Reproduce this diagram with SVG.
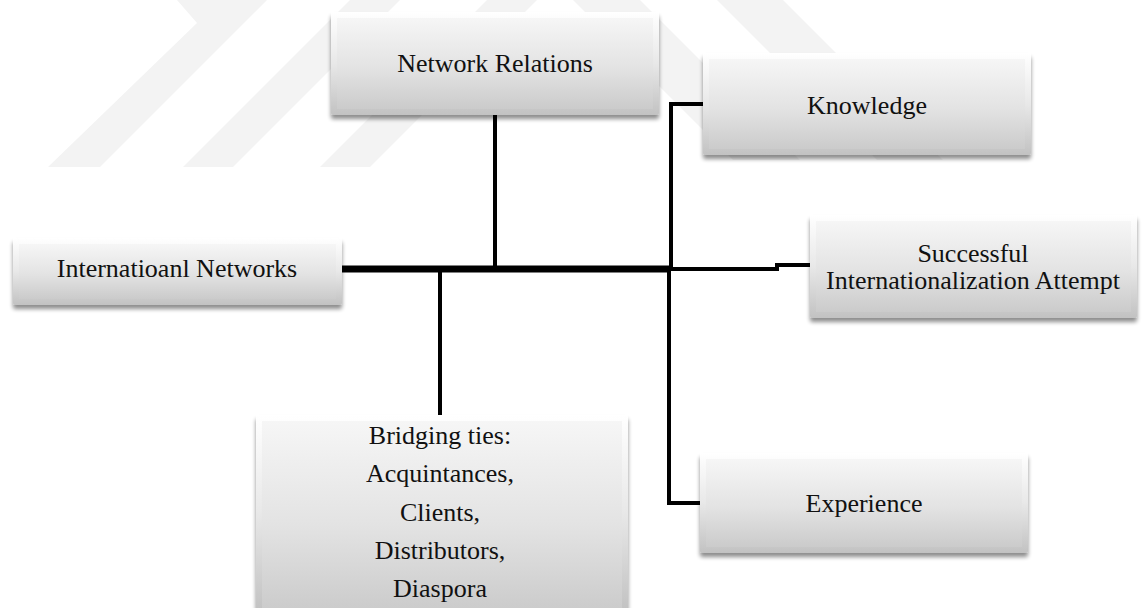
<svg xmlns="http://www.w3.org/2000/svg" width="1142" height="608" viewBox="0 0 1142 608">
<style>
.t{font-family:"Liberation Serif","Times New Roman",serif;font-size:26px;fill:#111;text-anchor:middle}
.wm{fill:#f3f3f3}
.c{fill:none;stroke:#000;stroke-width:4;stroke-linejoin:miter}
.outer{fill:url(#gOuter);filter:url(#sh)}
.inner{fill:url(#gInner)}
</style>
<defs>
<linearGradient id="gOuter" x1="0" y1="0" x2="0" y2="1">
<stop offset="0" stop-color="#ffffff"/>
<stop offset="0.5" stop-color="#e8e8e8"/>
<stop offset="1" stop-color="#c2c2c2"/>
</linearGradient>
<linearGradient id="gInner" x1="0" y1="0" x2="0" y2="1">
<stop offset="0" stop-color="#f6f6f6"/>
<stop offset="0.55" stop-color="#e3e3e3"/>
<stop offset="1" stop-color="#cbcbcb"/>
</linearGradient>
<filter id="sh" x="-5%" y="-10%" width="110%" height="125%">
<feGaussianBlur in="SourceAlpha" stdDeviation="2"/>
<feOffset dx="0" dy="4" result="b"/>
<feComponentTransfer><feFuncA type="linear" slope="0.45"/></feComponentTransfer>
<feMerge><feMergeNode/><feMergeNode in="SourceGraphic"/></feMerge>
</filter>
</defs>
<rect width="1142" height="608" fill="#ffffff"/>
<g id="watermark">
<polygon class="wm" points="177,0 197,23 48,167 100,167 267,0"/>
<polygon class="wm" points="350,0 400,0 233,167 183,167"/>
<polygon class="wm" points="487,0 537,0 370,167 320,167"/>
<polygon class="wm" points="573,0 640,0 800,160 733,160"/>
<polygon class="wm" points="717,0 783,0 943,160 877,160"/>
</g>
<g id="connectors">
<line x1="342" y1="269" x2="671" y2="269" stroke="#000" stroke-width="7"/>
<path class="c" d="M670 269 H777 V265 H810"/>
<line class="c" x1="495" y1="115" x2="495" y2="268"/>
<line class="c" x1="440" y1="269" x2="440" y2="415"/>
<path class="c" d="M703 104 H671 V269"/>
<path class="c" d="M669 269 V503 H700"/>
</g>
<g id="node-network-relations">
<rect class="outer" x="331" y="12" width="328" height="103" rx="2"/>
<rect class="inner" x="337" y="18" width="316" height="91"/>
<text class="t" x="495" y="72">Network Relations</text>
</g>
<g id="node-knowledge">
<rect class="outer" x="703" y="53" width="328" height="102" rx="2"/>
<rect class="inner" x="709" y="59" width="316" height="90"/>
<text class="t" x="867" y="114">Knowledge</text>
</g>
<g id="node-international-networks">
<rect class="outer" x="13" y="238" width="329" height="67" rx="2"/>
<rect class="inner" x="19" y="244" width="317" height="55"/>
<text class="t" x="177" y="277">Internatioanl Networks</text>
</g>
<g id="node-successful">
<rect class="outer" x="810" y="215" width="327" height="103" rx="2"/>
<rect class="inner" x="816" y="221" width="315" height="91"/>
<text class="t" x="973" y="262">Successful</text>
<text class="t" x="973" y="289">Internationalization Attempt</text>
</g>
<g id="node-bridging">
<rect class="outer" x="256" y="415" width="372" height="196" rx="2"/>
<rect class="inner" x="262" y="421" width="360" height="190"/>
<text class="t" x="440" y="444">Bridging ties:</text>
<text class="t" x="440" y="482">Acquintances,</text>
<text class="t" x="440" y="521">Clients,</text>
<text class="t" x="440" y="559">Distributors,</text>
<text class="t" x="440" y="597">Diaspora</text>
</g>
<g id="node-experience">
<rect class="outer" x="700" y="453" width="328" height="100" rx="2"/>
<rect class="inner" x="706" y="459" width="316" height="88"/>
<text class="t" x="864" y="512">Experience</text>
</g>
</svg>
